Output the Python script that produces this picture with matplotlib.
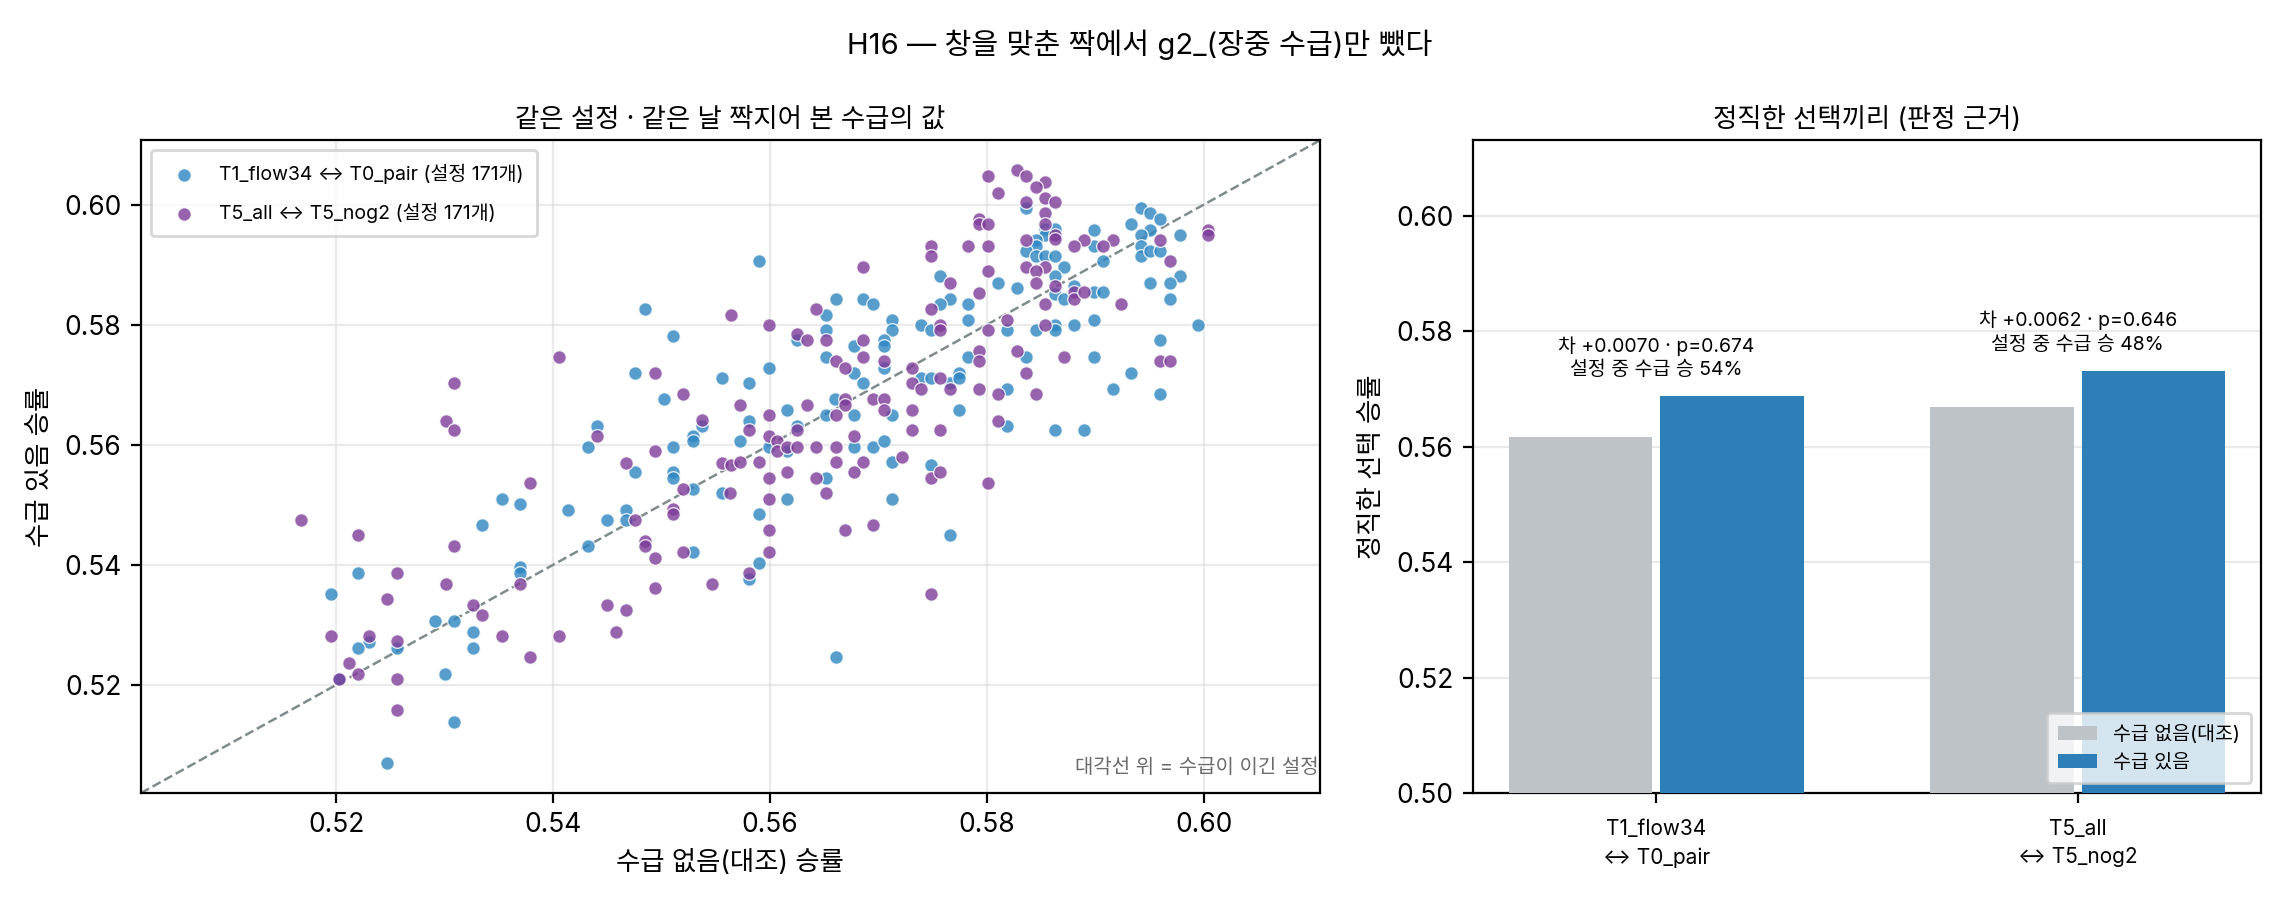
import matplotlib
matplotlib.use("Agg")
import matplotlib.pyplot as plt
import numpy as np

plt.rcParams['font.family'] = ['Inter', 'Noto Sans CJK KR', 'DejaVu Sans']
plt.rcParams['axes.unicode_minus'] = False

# ---------------- data ----------------
blue_pts = [
    (0.5485,0.5826),(0.5511,0.5781),(0.5476,0.5720),(0.5502,0.5677),(0.5441,0.5632),(0.5537,0.5632),
    (0.5529,0.5614),(0.5529,0.5606),(0.5432,0.5597),(0.5511,0.5597),(0.5556,0.5712),
    (0.5836,0.5994),(0.5942,0.5994),(0.5951,0.5986),(0.5960,0.5976),(0.5854,0.5960),(0.5863,0.5960),
    (0.5854,0.5950),(0.5899,0.5958),(0.5933,0.5968),(0.5951,0.5958),(0.5942,0.5950),(0.5978,0.5950),
    (0.5899,0.5932),(0.5845,0.5941),(0.5845,0.5932),(0.5836,0.5923),(0.5845,0.5914),(0.5854,0.5915),
    (0.5863,0.5915),(0.5942,0.5932),(0.5942,0.5914),(0.5951,0.5923),(0.5960,0.5923),(0.5907,0.5907),
    (0.5590,0.5907),(0.5871,0.5897),(0.5863,0.5881),(0.5978,0.5881),(0.5951,0.5870),(0.5969,0.5870),
    (0.5757,0.5881),(0.5810,0.5870),(0.5828,0.5862),(0.5863,0.5851),(0.5871,0.5843),(0.5880,0.5864),
    (0.5899,0.5854),(0.5907,0.5854),(0.5661,0.5843),(0.5686,0.5843),(0.5695,0.5835),(0.5766,0.5843),
    (0.5757,0.5835),(0.5783,0.5835),(0.5969,0.5843),(0.5652,0.5817),(0.5713,0.5808),(0.5783,0.5808),
    (0.5899,0.5808),(0.5739,0.5800),(0.5749,0.5792),(0.5713,0.5792),(0.5652,0.5792),(0.5819,0.5792),
    (0.5845,0.5792),(0.5863,0.5800),(0.5863,0.5792),(0.5880,0.5800),(0.5995,0.5800),(0.5625,0.5774),
    (0.5705,0.5774),(0.5705,0.5765),(0.5678,0.5765),(0.5960,0.5774),(0.5783,0.5747),(0.5836,0.5747),
    (0.5899,0.5747),(0.5652,0.5747),(0.5705,0.5728),(0.5599,0.5728),(0.5678,0.5720),(0.5933,0.5720),
    (0.5581,0.5703),(0.5686,0.5703),(0.5739,0.5712),(0.5749,0.5712),(0.5766,0.5703),(0.5774,0.5720),
    (0.5774,0.5712),(0.5819,0.5693),(0.5916,0.5693),(0.5960,0.5685),(0.5660,0.5677),(0.5616,0.5658),
    (0.5652,0.5650),(0.5678,0.5650),(0.5713,0.5650),(0.5774,0.5658),(0.5581,0.5640),(0.5625,0.5632),
    (0.5819,0.5632),(0.5863,0.5624),(0.5890,0.5624),(0.5572,0.5606),(0.5599,0.5597),(0.5616,0.5589),
    (0.5678,0.5597),(0.5695,0.5597),(0.5705,0.5606),(0.5713,0.5571),(0.5749,0.5566),
    (0.5652,0.5545),(0.5556,0.5519),(0.5616,0.5510),(0.5713,0.5510),(0.5590,0.5484),(0.5766,0.5449),
    (0.5590,0.5404),(0.5581,0.5377),(0.5661,0.5246),
    (0.5476,0.5554),(0.5511,0.5554),(0.5511,0.5545),(0.5529,0.5527),(0.5353,0.5510),(0.5370,0.5502),
    (0.5414,0.5492),(0.5467,0.5492),(0.5467,0.5475),(0.5450,0.5475),(0.5335,0.5466),(0.5432,0.5431),
    (0.5529,0.5422),(0.5370,0.5396),(0.5370,0.5387),(0.5220,0.5387),(0.5195,0.5351),(0.5291,0.5307),
    (0.5309,0.5307),(0.5326,0.5289),(0.5326,0.5262),(0.5230,0.5272),(0.5220,0.5262),(0.5256,0.5262),
    (0.5203,0.5210),(0.5300,0.5219),(0.5309,0.5139),(0.5247,0.5070),
]
purple_pts = [
    (0.5564,0.5817),(0.5406,0.5746),(0.5494,0.5720),(0.5309,0.5703),(0.5520,0.5685),(0.5301,0.5640),
    (0.5309,0.5624),(0.5441,0.5614),(0.5537,0.5642),(0.5494,0.5589),(0.5467,0.5570),(0.5556,0.5570),
    (0.5564,0.5566),
    (0.5801,0.6047),(0.5828,0.6057),(0.5836,0.6047),(0.5854,0.6038),(0.5845,0.6030),(0.5810,0.6020),
    (0.5854,0.6012),(0.5863,0.6004),(0.5836,0.6004),(0.5854,0.5986),(0.5793,0.5976),(0.5793,0.5968),
    (0.5801,0.5968),(0.5854,0.5968),(0.5863,0.5950),(0.5863,0.5943),(0.6004,0.5958),(0.6004,0.5950),
    (0.5960,0.5941),(0.5890,0.5941),(0.5916,0.5941),(0.5880,0.5932),(0.5907,0.5932),(0.5836,0.5941),
    (0.5969,0.5907),(0.5749,0.5932),(0.5749,0.5915),(0.5783,0.5932),(0.5801,0.5932),(0.5686,0.5897),
    (0.5836,0.5897),(0.5854,0.5897),(0.5845,0.5889),(0.5801,0.5889),(0.5766,0.5870),(0.5845,0.5870),
    (0.5863,0.5864),(0.5880,0.5854),(0.5880,0.5843),(0.5890,0.5854),(0.5793,0.5853),(0.5924,0.5835),
    (0.5854,0.5835),(0.5643,0.5826),(0.5749,0.5826),(0.5819,0.5808),(0.5599,0.5800),(0.5757,0.5800),
    (0.5757,0.5792),(0.5801,0.5792),(0.5854,0.5800),(0.5625,0.5784),(0.5634,0.5774),(0.5652,0.5774),
    (0.5686,0.5774),(0.5793,0.5756),(0.5793,0.5739),(0.5828,0.5756),(0.5871,0.5747),(0.5960,0.5739),
    (0.5969,0.5739),(0.5686,0.5747),(0.5661,0.5739),(0.5669,0.5728),(0.5705,0.5739),(0.5731,0.5728),
    (0.5836,0.5720),(0.5757,0.5712),(0.5731,0.5703),(0.5739,0.5693),(0.5766,0.5693),(0.5793,0.5693),
    (0.5810,0.5685),(0.5845,0.5685),(0.5572,0.5667),(0.5669,0.5677),(0.5669,0.5667),(0.5695,0.5677),
    (0.5705,0.5677),(0.5705,0.5658),(0.5634,0.5667),(0.5599,0.5650),(0.5661,0.5650),(0.5731,0.5658),
    (0.5581,0.5624),(0.5625,0.5624),(0.5599,0.5614),(0.5731,0.5624),(0.5757,0.5624),(0.5810,0.5640),
    (0.5607,0.5606),(0.5607,0.5589),(0.5616,0.5597),(0.5625,0.5597),(0.5643,0.5597),(0.5661,0.5597),
    (0.5678,0.5614),(0.5722,0.5579),(0.5590,0.5571),(0.5661,0.5571),(0.5686,0.5571),(0.5572,0.5571),
    (0.5616,0.5554),(0.5599,0.5545),(0.5643,0.5545),(0.5678,0.5554),(0.5749,0.5545),(0.5757,0.5554),
    (0.5801,0.5537),(0.5563,0.5519),(0.5599,0.5510),(0.5652,0.5519),(0.5599,0.5458),(0.5669,0.5458),
    (0.5695,0.5466),(0.5599,0.5422),(0.5581,0.5387),(0.5749,0.5351),
    (0.5379,0.5537),(0.5520,0.5527),(0.5168,0.5475),(0.5476,0.5475),(0.5511,0.5493),(0.5511,0.5484),
    (0.5220,0.5449),(0.5309,0.5431),(0.5485,0.5440),(0.5485,0.5431),(0.5494,0.5412),(0.5520,0.5422),
    (0.5370,0.5369),(0.5256,0.5387),(0.5301,0.5369),(0.5247,0.5343),(0.5494,0.5361),(0.5547,0.5369),
    (0.5450,0.5334),(0.5467,0.5325),(0.5326,0.5334),(0.5335,0.5316),(0.5353,0.5281),(0.5406,0.5281),
    (0.5458,0.5289),(0.5379,0.5246),(0.5195,0.5281),(0.5230,0.5281),(0.5256,0.5274),(0.5212,0.5236),
    (0.5220,0.5219),(0.5203,0.5210),(0.5256,0.5210),(0.5256,0.5158),
]
blue_x = [p[0] for p in blue_pts]; blue_y = [p[1] for p in blue_pts]
purple_x = [p[0] for p in purple_pts]; purple_y = [p[1] for p in purple_pts]

series_labels = ["T1_flow34 ↔ T0_pair (설정 171개)", "T5_all ↔ T5_nog2 (설정 171개)"]

pair_labels = ["T1_flow34\n↔ T0_pair", "T5_all\n↔ T5_nog2"]
ctrl_vals = [0.5617, 0.5669]
flow_vals = [0.5687, 0.5731]
annot = ["차 +0.0070 · p=0.674\n설정 중 수급 승 54%", "차 +0.0062 · p=0.646\n설정 중 수급 승 48%"]

# ---------------- figure ----------------
fig = plt.figure(figsize=(11.4, 4.555), dpi=200)
ax1 = fig.add_axes([0.0618, 0.1295, 0.517, 0.7163])
ax2 = fig.add_axes([0.646, 0.1295, 0.3457, 0.7163])

c_blue = "#2e86c1"
c_purple = "#7d3c98"

ax1.scatter(blue_x, blue_y, s=24, color=c_blue, alpha=0.8, edgecolor="white",
            linewidth=0.5, label=series_labels[0], zorder=3)
ax1.scatter(purple_x, purple_y, s=24, color=c_purple, alpha=0.8, edgecolor="white",
            linewidth=0.5, label=series_labels[1], zorder=3)
allv = blue_x + blue_y + purple_x + purple_y
lo, hi = min(allv) - 0.005, max(allv) + 0.005
ax1.plot([lo, hi], [lo, hi], ls="--", color="#7f8c8d", lw=0.9, zorder=2)
ax1.set_xlim(lo, hi)
ax1.set_ylim(lo, hi)
ax1.set_xticks([0.52, 0.54, 0.56, 0.58, 0.60])
ax1.set_yticks([0.52, 0.54, 0.56, 0.58, 0.60])
ax1.set_xticklabels(["0.52", "0.54", "0.56", "0.58", "0.60"])
ax1.set_yticklabels(["0.52", "0.54", "0.56", "0.58", "0.60"])
ax1.grid(True, color="#dddddd", alpha=0.6, lw=0.8)
ax1.set_axisbelow(True)
ax1.set_xlabel("수급 없음(대조) 승률", fontsize=9.5)
ax1.set_ylabel("수급 있음 승률", fontsize=9.5)
ax1.set_title("같은 설정 · 같은 날 짝지어 본 수급의 값", fontsize=9.5, pad=5)
ax1.tick_params(labelsize=9.5)
ax1.legend(loc="upper left", fontsize=7, frameon=True, borderpad=0.7,
           handletextpad=0.8, labelspacing=0.95)
ax1.text(0.999, 0.025, "대각선 위 = 수급이 이긴 설정", transform=ax1.transAxes,
         ha="right", va="bottom", fontsize=7.2, color="#6b6b6b")

x = np.arange(len(pair_labels))
w = 0.34
ax2.bar(x - 0.18, ctrl_vals, w, color="#bdc3c7", label="수급 없음(대조)", zorder=3)
ax2.bar(x + 0.18, flow_vals, w, color="#2e7fb8", label="수급 있음", zorder=3)
for i in range(len(x)):
    ax2.text(x[i], max(ctrl_vals[i], flow_vals[i]) + 0.003, annot[i], ha="center",
             va="bottom", fontsize=7, linespacing=1.35)
ax2.set_ylim(0.50, 0.613)
ax2.set_yticks([0.50, 0.52, 0.54, 0.56, 0.58, 0.60])
ax2.set_yticklabels(["0.50", "0.52", "0.54", "0.56", "0.58", "0.60"])
ax2.set_xticks(x)
ax2.set_xticklabels(pair_labels, fontsize=7.5, linespacing=1.5)
ax2.tick_params(axis="x", pad=6)
ax2.tick_params(axis="y", labelsize=9.5)
ax2.grid(True, axis="y", color="#dddddd", alpha=0.6, lw=0.8)
ax2.set_axisbelow(True)
ax2.set_ylabel("정직한 선택 승률", fontsize=9.5)
ax2.set_title("정직한 선택끼리 (판정 근거)", fontsize=9.5, pad=5)
ax2.legend(loc="lower right", fontsize=7, frameon=True, borderpad=0.6)

fig.suptitle("H16 — 창을 맞춘 짝에서 g2_(장중 수급)만 뺐다", fontsize=10.5, y=0.967)

fig.savefig("out.png", dpi=200)
